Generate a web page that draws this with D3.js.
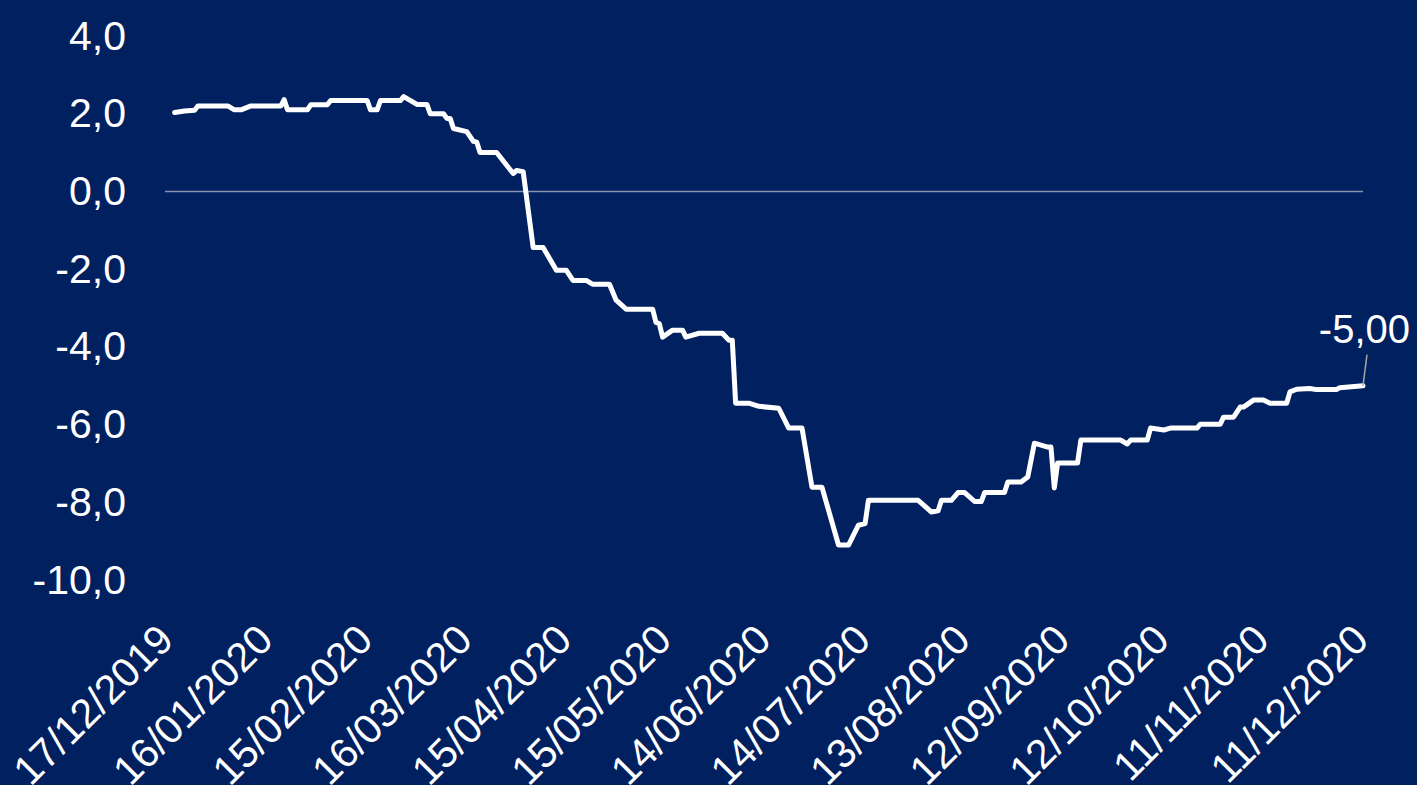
<!DOCTYPE html>
<meta charset="utf-8">
<style>
body{
    margin:0;
    background:#002060;
}
text{
    font-family:"Liberation Sans", Arial, sans-serif;
    fill:#fff;
}
.tick text{
    font-size:41px;
}
.zero{
    stroke:#8a93b0;
    stroke-width:1.5px;
}
.series{
    fill:none;
    stroke:#fff;
    stroke-width:5px;
    stroke-linejoin:round;
    stroke-linecap:round;
}
</style>
<body>
<div id="chart"></div>

<script src="https://d3js.org/d3.v7.min.js"></script>
<script>
// dates and values
var dates = [
 "2019-12-19","2019-12-22","2019-12-25","2019-12-26","2020-01-04","2020-01-06","2020-01-08","2020-01-11",
 "2020-01-20","2020-01-21","2020-01-22","2020-01-28","2020-01-29","2020-02-03","2020-02-04","2020-02-15",
 "2020-02-16","2020-02-18","2020-02-19","2020-02-25","2020-02-26","2020-03-01","2020-03-04","2020-03-05",
 "2020-03-09","2020-03-10","2020-03-11","2020-03-12","2020-03-16","2020-03-18","2020-03-19","2020-03-20",
 "2020-03-25","2020-03-30","2020-03-31","2020-04-02","2020-04-05","2020-04-08","2020-04-12","2020-04-15",
 "2020-04-17","2020-04-21","2020-04-23","2020-04-28","2020-04-30","2020-05-03","2020-05-11","2020-05-12",
 "2020-05-13","2020-05-14","2020-05-17","2020-05-20","2020-05-21","2020-05-25","2020-06-01","2020-06-03",
 "2020-06-04","2020-06-05","2020-06-09","2020-06-12","2020-06-18","2020-06-21","2020-06-25","2020-06-28",
 "2020-07-01","2020-07-06","2020-07-09","2020-07-12","2020-07-14","2020-07-15","2020-07-30","2020-08-03",
 "2020-08-05","2020-08-06","2020-08-09","2020-08-11","2020-08-13","2020-08-16","2020-08-18","2020-08-19",
 "2020-08-25","2020-08-26","2020-08-30","2020-09-01","2020-09-03","2020-09-07","2020-09-08","2020-09-09",
 "2020-09-10","2020-09-16","2020-09-17","2020-09-29","2020-10-01","2020-10-02","2020-10-07","2020-10-08",
 "2020-10-12","2020-10-14","2020-10-22","2020-10-23","2020-10-29","2020-10-30","2020-11-02","2020-11-04",
 "2020-11-05","2020-11-08","2020-11-11","2020-11-13","2020-11-18","2020-11-19","2020-11-21","2020-11-25",
 "2020-11-27","2020-12-03","2020-12-04","2020-12-11"
];
var values = [
 2.03,2.07,2.09,2.2,2.2,2.1,2.1,2.2,
 2.2,2.36,2.1,2.1,2.23,2.23,2.34,2.34,
 2.1,2.1,2.34,2.34,2.44,2.24,2.24,2.0,
 2.0,1.88,1.88,1.62,1.54,1.29,1.27,1.0,
 1.0,0.46,0.54,0.51,-1.44,-1.44,-2.03,-2.03,
 -2.29,-2.29,-2.39,-2.39,-2.8,-3.03,-3.03,-3.37,
 -3.4,-3.75,-3.57,-3.57,-3.75,-3.65,-3.65,-3.83,
 -3.83,-5.45,-5.45,-5.53,-5.58,-6.09,-6.09,-7.61,
 -7.61,-9.1,-9.1,-8.59,-8.55,-7.95,-7.95,-8.25,
 -8.22,-7.95,-7.95,-7.75,-7.75,-7.98,-7.98,-7.75,
 -7.75,-7.48,-7.48,-7.35,-6.48,-6.58,-6.58,-7.63,
 -6.99,-6.99,-6.4,-6.4,-6.5,-6.4,-6.4,-6.09,
 -6.14,-6.09,-6.09,-5.99,-5.99,-5.81,-5.81,-5.55,
 -5.55,-5.37,-5.37,-5.45,-5.45,-5.16,-5.09,-5.07,
 -5.1,-5.1,-5.05,-5.0
];
var tickDates = ["2019-12-17","2020-01-16","2020-02-15","2020-03-16","2020-04-15","2020-05-15",
 "2020-06-14","2020-07-14","2020-08-13","2020-09-12","2020-10-12","2020-11-11","2020-12-11"];
var yTicks = [4,2,0,-2,-4,-6,-8,-10];
var lastLabel = "-5,00";

var width = 1417, height = 785;
var parse = d3.timeParse("%Y-%m-%d");
var fmtDate = d3.timeFormat("%d/%m/%Y");

var data = dates.map(function(d,i){ return {date:parse(d), value:values[i]}; });

var svg = d3.select("#chart").append("svg").attr("width",width).attr("height",height);

var x = d3.scaleTime()
    .domain([parse(tickDates[0]), parse(tickDates[tickDates.length-1])])
    .range([168,1363]);
var y = d3.scaleLinear().domain([-10,4]).range([580,36]);

// y axis labels only
var yAxis = d3.axisLeft(y).tickValues(yTicks).tickSize(0).tickPadding(0)
    .tickFormat(function(d){ return d3.format(".1f")(d).replace(".",",").replace("−","-"); });
svg.append("g").attr("transform","translate(126,0)").call(yAxis)
    .call(g=>g.select(".domain").remove());

// x axis labels, rotated
var xAxis = d3.axisBottom(x).tickValues(tickDates.map(parse)).tickSize(0).tickFormat(fmtDate);
svg.append("g").attr("transform","translate(0,632)").call(xAxis)
    .call(g=>g.select(".domain").remove())
    .selectAll("text")
    .attr("text-anchor","end")
    .attr("dy","0.35em")
    .attr("y",0)
    .attr("transform","translate(-3,0) rotate(-45)");

// zero line
svg.append("line").attr("class","zero")
    .attr("x1",165).attr("x2",x.range()[1])
    .attr("y1",y(0)).attr("y2",y(0));

var line = d3.line().x(d=>x(d.date)).y(d=>y(d.value));
svg.append("path").datum(data).attr("class","series").attr("d",line);

// last value label with leader
var last = data[data.length-1];
svg.append("line")
    .attr("x1",x(last.date)).attr("y1",y(last.value))
    .attr("x2",x(last.date)+4).attr("y2",y(last.value)-31)
    .style("stroke","#a6a6a6").style("stroke-width",1.5);
svg.append("text")
    .attr("x",x(last.date)+47).attr("y",y(last.value)-43)
    .attr("text-anchor","end")
    .style("font-size","40px")
    .text(lastLabel);
</script>
</body>
</html>
